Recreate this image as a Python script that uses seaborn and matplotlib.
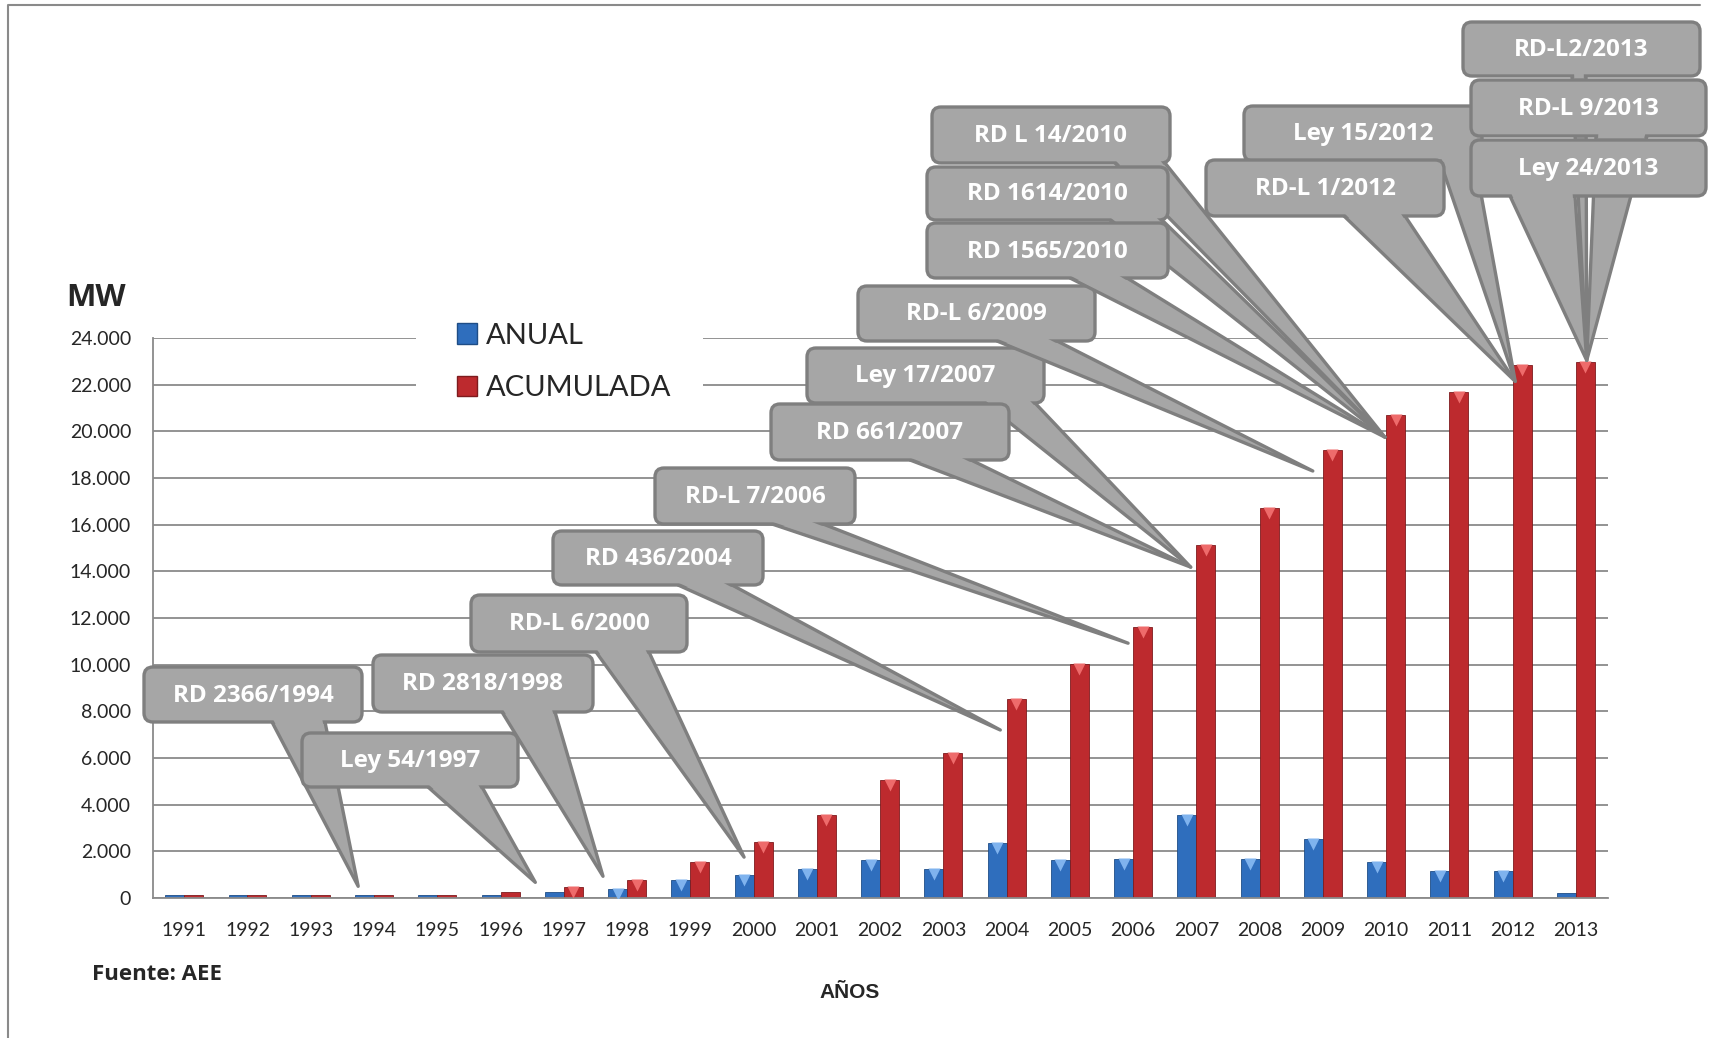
import numpy as np
import pandas as pd
import seaborn as sns
import matplotlib
matplotlib.use('Agg')
import matplotlib.pyplot as plt
from matplotlib.patches import FancyBboxPatch, Polygon, Rectangle, Patch
from matplotlib.transforms import IdentityTransform, offset_copy
from matplotlib.lines import Line2D

# ---- data (MW) ----
years = [str(y) for y in range(1991, 2014)]
anual = [150, 150, 150, 150, 150, 140, 240, 390, 770, 1000, 1250, 1630, 1240, 2360,
         1630, 1670, 3570, 1670, 2530, 1540, 1160, 1160, 200]
acumulada = [150, 150, 150, 150, 150, 260, 470, 780, 1540, 2420, 3560, 5040, 6210, 8530,
             10040, 11630, 15130, 16720, 19220, 20680, 21700, 22850, 22970]
series = ['ANUAL', 'ACUMULADA']

# normativa (texto del globo) y punto señalado (indice de año, MW)
leyes = ['RD 2366/1994', 'Ley 54/1997', 'RD 2818/1998', 'RD-L 6/2000', 'RD 436/2004',
         'RD-L 7/2006', 'Ley 17/2007', 'RD 661/2007', 'RD-L 6/2009', 'RD L 14/2010',
         'RD 1614/2010', 'RD 1565/2010', 'Ley 15/2012', 'RD-L 1/2012', 'RD-L2/2013',
         'RD-L 9/2013', 'Ley 24/2013']
tips = [(2.75, 500), (5.55, 670), (6.62, 930), (8.85, 1750), (12.9, 7200), (14.92, 10920),
        (15.91, 14180), (15.91, 14180), (17.84, 18300), (18.98, 19750), (18.98, 19750),
        (18.98, 19750), (21.04, 22140), (21.04, 22140), (22.17, 23040), (22.17, 23040),
        (22.17, 23040)]
# caja en pixeles (x0, y0 arriba, x1, y1 abajo) y base de la punta (bx0, bx1)
boxes = [(144, 667, 362, 722), (302, 733, 518, 787), (373, 655, 593, 712), (471, 595, 687, 652),
         (553, 531, 763, 585), (655, 468, 855, 524), (807, 348, 1044, 403), (771, 404, 1009, 460),
         (858, 286, 1095, 341), (932, 107, 1170, 163), (927, 167, 1168, 220), (927, 223, 1168, 278),
         (1244, 106, 1482, 161), (1206, 160, 1444, 216), (1463, 22, 1700, 76), (1471, 80, 1706, 136),
         (1471, 140, 1706, 196)]
bases = [(272, 325), (428, 482), (502, 555), (596, 649), (678, 732), (772, 823), (985, 1035),
         (910, 971), (997, 1057), (1115, 1165), (1110, 1162), (1070, 1127), (1440, 1475),
         (1344, 1405), (1572, 1586), (1596, 1647), (1510, 1575)]

W, H = 1709, 1038
sns.set_style('white')
plt.rcParams['font.family'] = ['Lato', 'DejaVu Sans']
BOLD = ['Open Sans', 'DejaVu Sans']

df = pd.DataFrame({'year': years * 2, 'MW': anual + acumulada,
                   'serie': [series[0]] * len(years) + [series[1]] * len(years)})

blue, red = '#2f6ebd', '#bd2a2e'
grey = '#8a8a8a'

fig = plt.figure(figsize=(W / 100, H / 100), dpi=100)
ax = fig.add_axes([152.6 / W, 1 - 898 / H, 1455 / W, 560 / H])
sns.barplot(data=df, x='year', y='MW', hue='serie', palette=[blue, red], width=0.6,
            saturation=1, legend=False, ax=ax, edgecolor='#5a1f20', linewidth=0.6)
for p in ax.patches:
    if p.get_height() > 0:
        p.set_edgecolor('#1f4d86' if p.get_facecolor()[2] > 0.5 else '#7e1b1e')

# brillo en la parte superior de cada barra
tri = offset_copy(ax.transData, fig=fig, y=-5, units='dots')
for p in ax.patches:
    h = p.get_height()
    if h > 350:
        c = '#7fb3ee' if p.get_facecolor()[2] > 0.5 else '#ee6b6b'
        ax.plot(p.get_x() + p.get_width() / 2, h, marker='v', ms=8, color=c, mec='none',
                transform=tri, zorder=3)

ax.set_xlim(-0.5, len(years) - 0.5)
ax.set_ylim(0, 24000)
yt = np.arange(0, 24001, 2000)
ax.set_yticks(yt)
ax.set_yticklabels([f'{v:,}'.replace(',', '.') for v in yt], fontsize=14)
ax.set_xticks(range(len(years)))
ax.set_xticklabels(years, fontsize=14)
ax.set_xticks(np.arange(-0.5, len(years)), minor=True)
ax.tick_params(axis='x', which='major', length=0, pad=17)
ax.tick_params(axis='x', which='minor', length=7, width=1.2, color=grey)
ax.tick_params(axis='y', length=6.5, width=1.2, color=grey, pad=9)
ax.set_xlabel('')
ax.set_ylabel('')
ax.yaxis.grid(True, color=grey, lw=1.3)
ax.set_axisbelow(True)
for s in ['top', 'right']:
    ax.spines[s].set_visible(False)
for s in ['left', 'bottom']:
    ax.spines[s].set_color(grey)
    ax.spines[s].set_linewidth(1.3)

# textos sueltos
fig.text(66 / W, 1 - 298 / H, 'MW', fontsize=22.5, weight='bold', va='center', family=BOLD)
fig.text(92 / W, 1 - 974 / H, 'Fuente: AEE', fontsize=16, weight='bold', va='center',
         family=BOLD)
fig.text(850 / W, 1 - 992 / H, 'AÑOS', fontsize=15, weight='bold', va='center', ha='center',
         family=['Liberation Sans Narrow', 'Liberation Sans', 'DejaVu Sans'])

# leyenda sobre fondo blanco
fig.add_artist(Rectangle((416 / W, 1 - 412 / H), 287 / W, 100 / H, transform=fig.transFigure,
                         fc='white', ec='none', zorder=1))
handles = [Patch(facecolor=blue, edgecolor='#1f4d86'), Patch(facecolor=red, edgecolor='#7e1b1e')]
leg = fig.legend(handles, series, loc='center left', bbox_to_anchor=(457 / W, 1 - 362 / H),
                 frameon=False, fontsize=21, handlelength=0.7, handleheight=0.7,
                 handletextpad=0.3, labelspacing=0.9, borderpad=0, borderaxespad=0)
leg.set_zorder(2)

# marco exterior
fig.add_artist(Line2D([8, 8, 1700], [0, H - 5, H - 5], transform=IdentityTransform(),
                      color=grey, lw=1.5, zorder=1))

# globos
fill, edge = '#a6a6a6', '#7f7f7f'
lw = 2.4
IT = IdentityTransform()
for i, (txt, tip, box, base) in enumerate(zip(leyes, tips, boxes, bases)):
    z = 3 + i
    x0, yt0, x1, yb = box
    Yb, Yt = H - yb, H - yt0
    tx, ty = ax.transData.transform(tip)
    b0, b1 = base
    fig.add_artist(Polygon([(b0, Yb), (tx, ty), (b1, Yb)], closed=True, fc=fill, ec=edge,
                           lw=lw, joinstyle='round', transform=IT, zorder=z))
    fig.add_artist(FancyBboxPatch((x0, Yb), x1 - x0, Yt - Yb,
                                  boxstyle='round,pad=0,rounding_size=9',
                                  fc=fill, ec=edge, lw=lw, transform=IT, zorder=z + 0.1))
    # unir punta y caja sin borde
    d = 2.2
    def xs(bx, y):
        return bx + (y - Yb) * (tx - bx) / (ty - Yb)
    def dh(bx):
        L = np.hypot(tx - bx, ty - Yb)
        return d * L / abs(ty - Yb)
    ya, yb2 = Yb + 4, Yb - 10
    pts = [(xs(b0, ya) + dh(b0), ya), (xs(b1, ya) - dh(b1), ya),
           (xs(b1, yb2) - dh(b1), yb2), (xs(b0, yb2) + dh(b0), yb2)]
    if pts[3][0] < pts[2][0]:
        fig.add_artist(Polygon(pts, closed=True, fc=fill, ec='none', transform=IT,
                               zorder=z + 0.2))
    fig.text((x0 + x1) / 2, (Yb + Yt) / 2 - 1, txt, transform=IT, ha='center', va='center',
             color='white', fontsize=17.5, weight='bold', family=BOLD, zorder=z + 0.3)

fig.savefig('out.png', dpi=100, facecolor='white')
